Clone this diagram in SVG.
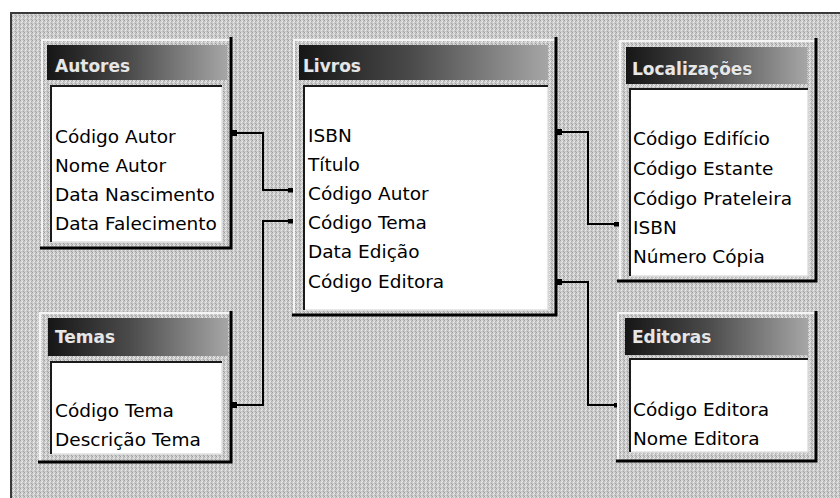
<svg xmlns="http://www.w3.org/2000/svg" width="840" height="498" viewBox="0 0 840 498">
<style>
.hl{stroke:#f4f4f4;stroke-width:2;fill:none}
.sh{stroke:#000;stroke-width:3;fill:none}
.tb{fill:url(#tg)}
.tt{font-family:"DejaVu Sans",sans-serif;font-weight:bold;font-size:17px;fill:#e6e6e6;stroke:#3a3a3a;stroke-width:0.6;paint-order:stroke}
.ct{fill:#fff}
.cd{stroke:#1a1a1a;stroke-width:2;fill:none}
.cl{stroke:#e0e0e0;stroke-width:1.5;fill:none}
.f{font-family:"DejaVu Sans",sans-serif;font-size:18.5px;fill:#000}
.cn{stroke:#000;stroke-width:2;fill:none;marker-start:url(#src);marker-end:url(#dst)}
</style>
<defs>
<linearGradient id="tg" x1="0" y1="0" x2="1" y2="0">
<stop offset="0" stop-color="#161616"/>
<stop offset="0.45" stop-color="#4a4a4a"/>
<stop offset="1" stop-color="#a6a6a6"/>
</linearGradient>
<pattern id="dith" width="4" height="4" patternUnits="userSpaceOnUse">
<rect width="4" height="4" fill="#c9c9c9"/>
<rect x="0" y="0" width="1" height="1" fill="#9e9e9e"/>
<rect x="2" y="1" width="1" height="1" fill="#ececec"/>
<rect x="1" y="2" width="1" height="1" fill="#ececec"/>
<rect x="3" y="3" width="1" height="1" fill="#a4a4a4"/>
<rect x="3" y="1" width="1" height="1" fill="#b0b0b0"/>
<rect x="1" y="0" width="1" height="1" fill="#e4e4e4"/>
</pattern>
<marker id="src" viewBox="0 0 5 6" refX="0" refY="3" markerWidth="5" markerHeight="6" markerUnits="userSpaceOnUse" orient="auto">
<rect x="0" y="0" width="5" height="6" fill="#000"/>
</marker>
<marker id="dst" viewBox="0 0 5 5" refX="4" refY="2.5" markerWidth="5" markerHeight="5" markerUnits="userSpaceOnUse" orient="auto">
<rect x="0" y="0" width="5" height="5" fill="#000"/>
</marker>
</defs>
<rect width="840" height="498" fill="#fff"/>
<rect x="10" y="12" width="830" height="486" fill="url(#dith)"/>
<path d="M11,498 V13 H840" stroke="#3a3a3a" stroke-width="2" fill="none"/>

<g id="connectors">
<path class="cn" d="M232,133 H263 V190 H292"/>
<path class="cn" d="M232,405 H263 V221 H292"/>
<path class="cn" d="M557,132 H588 V224 H618"/>
<path class="cn" d="M557,282 H588 V405 H618"/>
</g>

<g id="autores">
<path class="hl" d="M42,249 V40 H231"/>
<rect class="tb" x="47" y="45" width="180" height="35"/>
<text class="tt" x="55" y="72">Autores</text>
<rect class="ct" x="50" y="85" width="172" height="157"/>
<path class="cl" d="M50,242 H222 V85"/>
<path class="cd" d="M51,242 V86 H222"/>
<path class="sh" d="M231,37 V248 H40"/>
<text class="f" x="55" y="143">Código Autor</text>
<text class="f" x="55" y="172">Nome Autor</text>
<text class="f" x="55" y="201">Data Nascimento</text>
<text class="f" x="55" y="230">Data Falecimento</text>
</g>

<g id="livros">
<path class="hl" d="M294,316 V40 H556"/>
<rect class="tb" x="299" y="45" width="249" height="35"/>
<text class="tt" x="303" y="72">Livros</text>
<rect class="ct" x="303" y="85" width="245" height="225"/>
<path class="cl" d="M303,310 H548 V85"/>
<path class="cd" d="M304,310 V86 H548"/>
<path class="sh" d="M556,37 V315 H292"/>
<text class="f" x="308" y="142">ISBN</text>
<text class="f" x="308" y="171">Título</text>
<text class="f" x="308" y="200">Código Autor</text>
<text class="f" x="308" y="229">Código Tema</text>
<text class="f" x="308" y="258">Data Edição</text>
<text class="f" x="308" y="288">Código Editora</text>
</g>

<g id="localizacoes">
<path class="hl" d="M620,282 V41 H816"/>
<rect class="tb" x="626" y="47" width="181" height="37"/>
<text class="tt" x="632" y="75">Localizações</text>
<rect class="ct" x="629" y="88" width="179" height="188"/>
<path class="cl" d="M629,276 H808 V88"/>
<path class="cd" d="M630,276 V89 H808"/>
<path class="sh" d="M816,38 V281 H617"/>
<text class="f" x="633" y="145">Código Edifício</text>
<text class="f" x="633" y="175">Código Estante</text>
<text class="f" x="633" y="205">Código Prateleira</text>
<text class="f" x="633" y="234">ISBN</text>
<text class="f" x="633" y="263">Número Cópia</text>
</g>

<g id="editoras">
<path class="hl" d="M618,461 V313 H816"/>
<rect class="tb" x="625" y="318" width="183" height="37"/>
<text class="tt" x="632" y="343">Editoras</text>
<rect class="ct" x="629" y="358" width="179" height="94"/>
<path class="cl" d="M629,452 H808 V358"/>
<path class="cd" d="M630,452 V359 H808"/>
<path class="sh" d="M816,311 V461 H616"/>
<text class="f" x="633" y="416">Código Editora</text>
<text class="f" x="633" y="445">Nome Editora</text>
</g>

<g id="temas">
<path class="hl" d="M40,462 V313 H231"/>
<rect class="tb" x="48" y="318" width="180" height="38"/>
<text class="tt" x="55" y="343">Temas</text>
<rect class="ct" x="50" y="361" width="172" height="93"/>
<path class="cl" d="M50,454 H222 V361"/>
<path class="cd" d="M51,454 V362 H222"/>
<path class="sh" d="M231,311 V462 H38"/>
<text class="f" x="55" y="417">Código Tema</text>
<text class="f" x="55" y="446">Descrição Tema</text>
</g>
</svg>
